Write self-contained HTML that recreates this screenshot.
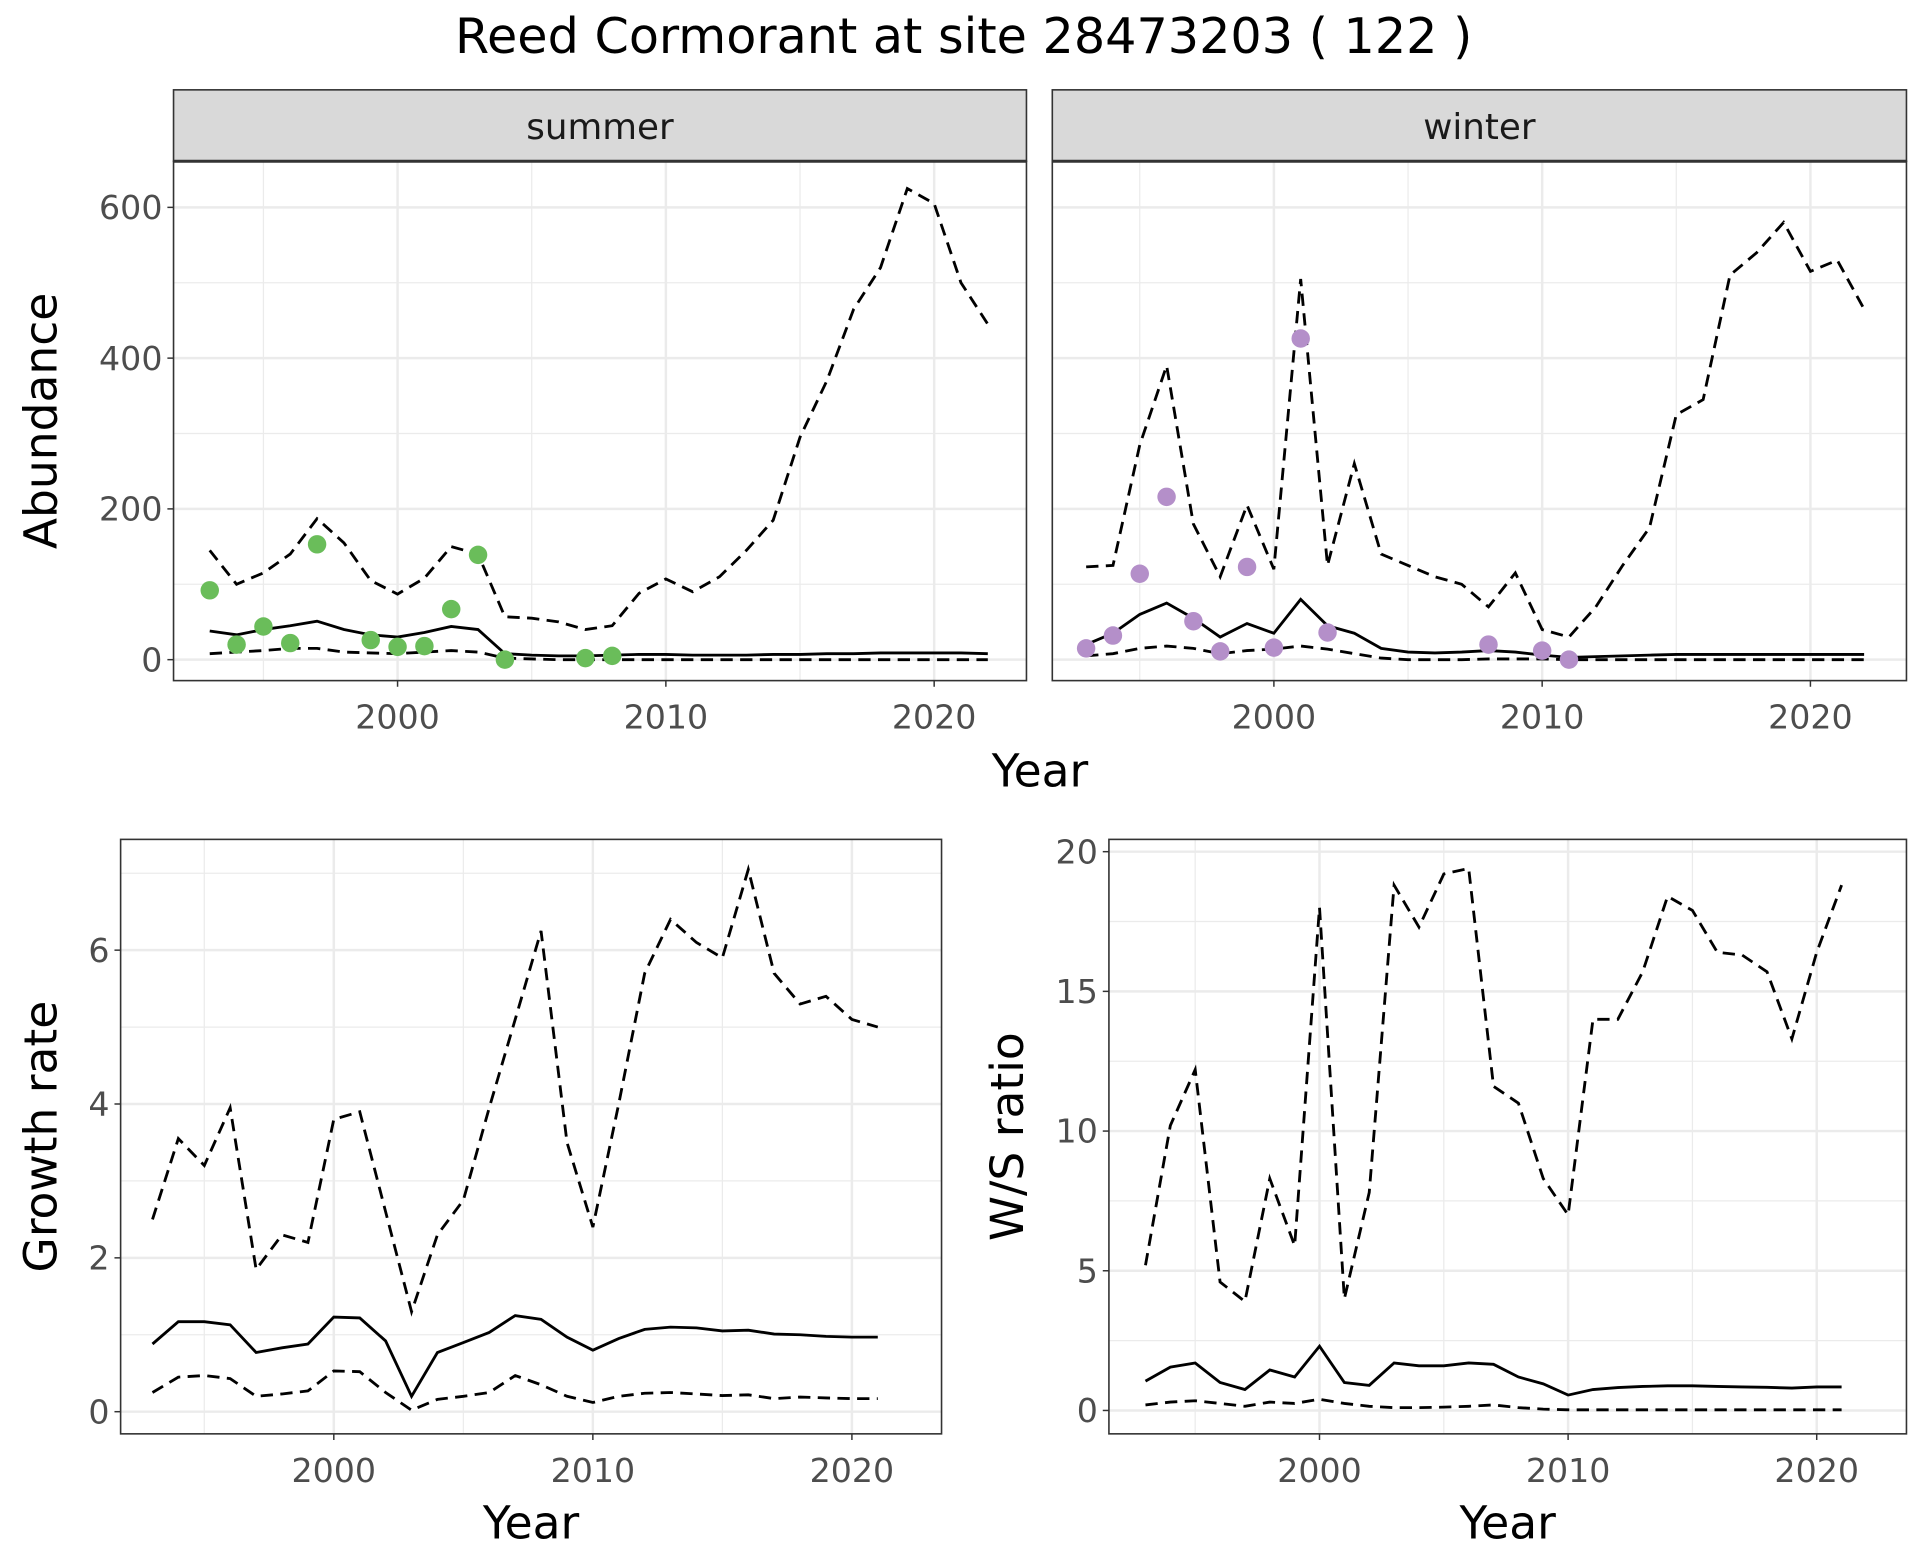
<!DOCTYPE html>
<html><head><meta charset="utf-8"><style>
html,body{margin:0;padding:0;background:#fff;}
svg{display:block;font-family:"DejaVu Sans","Liberation Sans",sans-serif;}
</style></head><body>
<svg id="chart" width="1920" height="1560" viewBox="0 0 1560 1267.5" preserveAspectRatio="none" xmlns="http://www.w3.org/2000/svg">
<text x="783" y="43" font-size="40" text-anchor="middle" fill="#000">Reed Cormorant at site 28473203 ( 122 )</text>
</svg>
<script>
const yearsA = [];for(let y=1993;y<=2022;y++)yearsA.push(y);
const yearsB = [];for(let y=1993;y<=2021;y++)yearsB.push(y);
const summerMean=[38,33,40,45,51,40,33,30,36,44,40,8,6,5,5,6,7,7,6,6,6,7,7,8,8,9,9,9,9,8];
const summerUpper=[145,100,115,140,187,155,105,87,108,150,140,57,55,50,40,45,88,107,90,110,145,185,295,370,465,520,625,605,500,445];
const summerLower=[8,10,12,15,15,10,9,8,10,12,10,2,1,0,0,0,0,0,0,0,0,0,0,0,0,0,0,0,0,0];
const summerPtYears=[1993,1994,1995,1996,1997,1999,2000,2001,2002,2003,2004,2007,2008];
const summerPtVals=[92,20,44,22,153,26,17,18,67,139,0,2,5];
const winterMean=[20,35,60,75,55,30,48,35,80,45,35,15,10,9,10,12,10,6,3,4,5,6,7,7,7,7,7,7,7,7];
const winterUpper=[123,125,285,390,180,110,205,120,505,125,260,140,125,110,100,70,115,40,30,70,125,175,325,345,510,540,580,515,530,465];
const winterLower=[5,8,15,18,15,8,12,14,18,14,8,2,0,0,0,1,1,1,0,0,0,0,0,0,0,0,0,0,0,0];
const winterPtYears=[1993,1994,1995,1996,1997,1998,1999,2000,2001,2002,2008,2010,2011];
const winterPtVals=[15,32,114,216,51,11,123,16,426,36,20,12,0];
const growthUpper=[2.5,3.55,3.2,3.95,1.85,2.3,2.2,3.8,3.9,2.6,1.3,2.3,2.75,3.95,5.1,6.25,3.5,2.4,4.0,5.7,6.4,6.1,5.9,7.05,5.7,5.3,5.4,5.1,5.0];
const growthMean=[0.88,1.17,1.17,1.13,0.77,0.83,0.88,1.23,1.22,0.92,0.2,0.77,0.9,1.03,1.25,1.2,0.97,0.8,0.95,1.07,1.1,1.09,1.05,1.06,1.01,1.0,0.98,0.97,0.97];
const growthLower=[0.25,0.45,0.47,0.43,0.2,0.23,0.27,0.53,0.52,0.25,0.02,0.16,0.2,0.25,0.47,0.35,0.2,0.12,0.2,0.24,0.25,0.23,0.21,0.22,0.17,0.19,0.18,0.17,0.17];
const ratioUpper=[5.2,10.2,12.2,4.6,3.9,8.3,5.9,18.0,4.0,7.8,18.8,17.3,19.2,19.4,11.6,11.0,8.3,7.0,14.0,14.0,15.7,18.4,17.9,16.4,16.3,15.7,13.3,16.4,18.8];
const ratioMean=[1.05,1.55,1.7,1.0,0.75,1.45,1.2,2.3,1.0,0.9,1.7,1.6,1.6,1.7,1.65,1.2,0.95,0.55,0.75,0.82,0.86,0.88,0.88,0.86,0.84,0.83,0.8,0.84,0.84];
const ratioLower=[0.2,0.3,0.35,0.25,0.15,0.3,0.25,0.4,0.25,0.15,0.1,0.1,0.12,0.15,0.2,0.1,0.05,0.02,0.02,0.02,0.02,0.02,0.02,0.02,0.02,0.02,0.02,0.02,0.02];
const xTicks=[2000,2010,2020];
const abTicks=[0,200,400,600];
const grTicks=[0,2,4,6];
const wsTicks=[0,5,10,15,20];

const svg=document.getElementById('chart');
const NS='http://www.w3.org/2000/svg';
function mk(tag,attrs,parent){const e=document.createElementNS(NS,tag);for(const k in attrs)e.setAttribute(k,attrs[k]);(parent||svg).appendChild(e);return e;}

function panel(p){
  const g=mk('g',{});
  
  
  const sx=v=>p.x0+(v-p.xmin)/(p.xmax-p.xmin)*(p.x1-p.x0);
  const sy=v=>p.y1-(v-p.ymin)/(p.ymax-p.ymin)*(p.y1-p.y0);
  for(let v=1990;v<=2025;v+=5){const x=sx(v);if(x>p.x0&&x<p.x1&&v%10!==0){const l=mk('line',{x1:x,x2:x,y1:p.y0,y2:p.y1,stroke:'#ebebeb','stroke-width':1},g);}}
  for(let i=0;i<p.yticks.length+1;i++){const step=p.yticks[1]-p.yticks[0];const v=p.yticks[0]+step*(i-0.5);const y=sy(v);if(y>p.y0&&y<p.y1){const l=mk('line',{x1:p.x0,x2:p.x1,y1:y,y2:y,stroke:'#ebebeb','stroke-width':1},g);}}
  xTicks.forEach(v=>{const x=sx(v);const l=mk('line',{x1:x,x2:x,y1:p.y0,y2:p.y1,stroke:'#ebebeb','stroke-width':2},g);
    mk('line',{x1:x,x2:x,y1:p.y1,y2:p.y1+5,stroke:'#333','stroke-width':1.2},g);
    const t=mk('text',{x:x,y:p.y1+39,'font-size':27,'text-anchor':'middle',fill:'#4d4d4d'},g);t.textContent=v;});
  p.yticks.forEach(v=>{const y=sy(v);const l=mk('line',{x1:p.x0,x2:p.x1,y1:y,y2:y,stroke:'#ebebeb','stroke-width':2},g);
    if(p.ylabels){mk('line',{x1:p.x0-5,x2:p.x0,y1:y,y2:y,stroke:'#333','stroke-width':1.2},g);
    const t=mk('text',{x:p.x0-9,y:y+9.5,'font-size':27,'text-anchor':'end',fill:'#4d4d4d'},g);t.textContent=v;}});
  const path=(ys,vals,dash,nm)=>{const d=vals.map((v,i)=>(i?'L':'M')+sx(ys[i]).toFixed(1)+','+sy(v).toFixed(1)).join('');
    const e=mk('path',{d:d,fill:'none',stroke:'#000','stroke-width':2.3,'stroke-dasharray':dash?'10,6':'none'},g);};
  path(p.years,p.upper,true,'upper-bound-line');
  path(p.years,p.lower,true,'lower-bound-line');
  path(p.years,p.mean,false,'mean-line');
  if(p.pts){p.pts[0].forEach((yr,i)=>{const c=mk('circle',{cx:sx(yr),cy:sy(p.pts[1][i]),r:7.5,fill:p.color},g);});}
  const b=mk('rect',{x:p.x0,y:p.y0,width:p.x1-p.x0,height:p.y1-p.y0,fill:'none',stroke:'#333','stroke-width':1.3},g);
  if(p.strip){const s=mk('rect',{x:p.x0,y:73,width:p.x1-p.x0,height:p.y0-73,fill:'#d9d9d9',stroke:'#333','stroke-width':1.3},g);
    mk('line',{x1:p.x0,x2:p.x1,y1:p.y0,y2:p.y0,stroke:'#333','stroke-width':2.5},g);
    const t=mk('text',{x:(p.x0+p.x1)/2,y:113,'font-size':29,'text-anchor':'middle',fill:'#1a1a1a'},g);t.textContent=p.strip;}
  if(p.xtitle){const t=mk('text',{x:(p.x0+p.x1)/2,y:p.y1+85,'font-size':37,'text-anchor':'middle'},g);t.textContent='Year';}
  if(p.ytitle){const t=mk('text',{x:0,y:0,'font-size':37,'text-anchor':'middle',transform:'translate('+p.ytx+','+((p.y0+p.y1)/2)+') rotate(-90)'},g);t.textContent=p.ytitle;}
}
const aY=[131,553];
panel({name:'summer-panel',x0:141,x1:834,y0:aY[0],y1:aY[1],xmin:1991.65,xmax:2023.44,ymin:-27.8,ymax:661.2,yticks:abTicks,ylabels:true,years:yearsA,mean:summerMean,upper:summerUpper,lower:summerLower,pts:[summerPtYears,summerPtVals],color:'#6abd5a',strip:'summer',ytitle:'Abundance',ytx:46});
panel({name:'winter-panel',x0:855,x1:1549,y0:aY[0],y1:aY[1],xmin:1991.74,xmax:2023.58,ymin:-27.8,ymax:661.2,yticks:abTicks,ylabels:false,years:yearsA,mean:winterMean,upper:winterUpper,lower:winterLower,pts:[winterPtYears,winterPtVals],color:'#b48fc9',strip:'winter'});
const yt=mk('text',{x:845,y:639,'font-size':37,'text-anchor':'middle'});yt.textContent='Year';


panel({name:'growth-rate-panel',x0:98,x1:765,y0:682,y1:1165,xmin:1991.77,xmax:2023.46,ymin:-0.288,ymax:7.44,yticks:grTicks,ylabels:true,years:yearsB,mean:growthMean,upper:growthUpper,lower:growthLower,xtitle:true,ytitle:'Growth rate',ytx:46});
panel({name:'ws-ratio-panel',x0:901,x1:1549,y0:682,y1:1165,xmin:1991.53,xmax:2023.61,ymin:-0.837,ymax:20.44,yticks:wsTicks,ylabels:true,years:yearsB,mean:ratioMean,upper:ratioUpper,lower:ratioLower,xtitle:true,ytitle:'W/S ratio',ytx:831});
</script>
</body></html>
